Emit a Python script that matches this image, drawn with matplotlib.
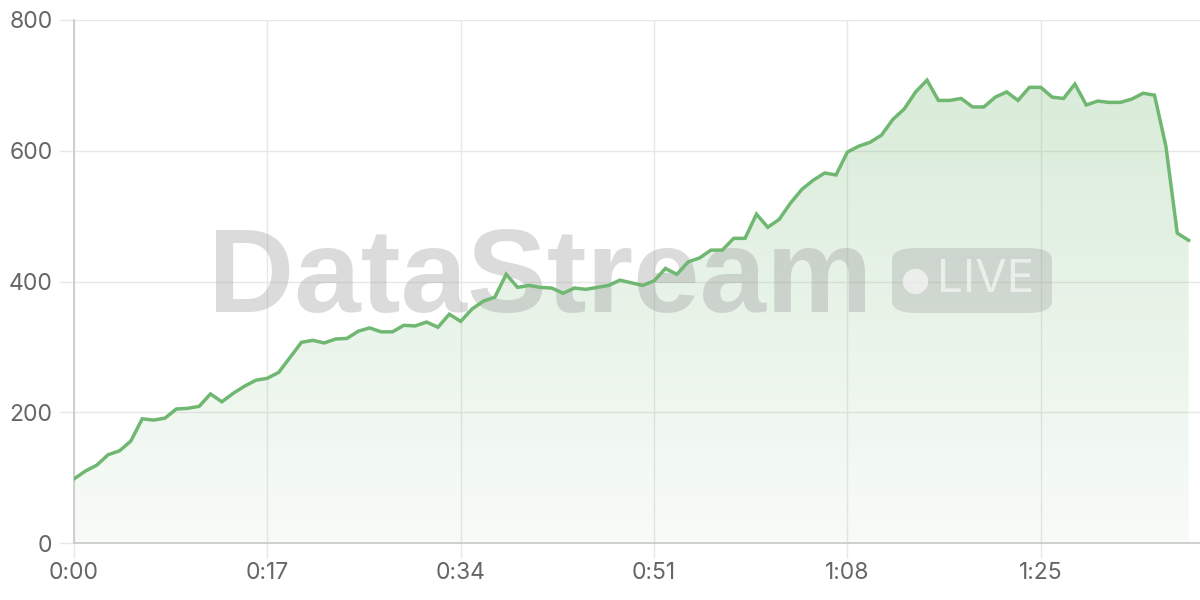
import numpy as np
import matplotlib.pyplot as plt
from matplotlib.colors import LinearSegmentedColormap
from matplotlib.patches import FancyBboxPatch

# data: one reading per second
seconds = list(range(99))
values = [98, 110, 119, 135, 141, 156, 190, 188, 191, 205,
          206, 209, 228, 216, 229, 240, 249, 252, 261, 284,
          307, 310, 306, 312, 313, 324, 329, 323, 323, 333,
          332, 338, 330, 350, 339, 358, 370, 376, 411, 391,
          394, 391, 390, 382, 390, 388, 391, 394, 402, 398,
          394, 401, 420, 411, 430, 436, 448, 448, 466, 466,
          503, 483, 495, 520, 541, 555, 566, 563, 598, 607,
          613, 624, 648, 664, 690, 708, 677, 677, 680, 667,
          667, 682, 690, 677, 697, 697, 682, 680, 702, 670,
          676, 674, 674, 679, 688, 685, 607, 474, 463]
tick_secs = [0, 17, 34, 51, 68, 85]
tick_labels = ["0:00", "0:17", "0:34", "0:51", "1:08", "1:25"]
y_ticks = [0, 200, 400, 600, 800]

line_color = "#70b872"
text_color = "#666666"

plt.rcParams['font.family'] = ['Inter', 'DejaVu Sans']

fig = plt.figure(figsize=(12, 6), dpi=100)
ax = fig.add_axes([74 / 1200, 57 / 600, 1126 / 1200, 523 / 600])

# gradient fill under the line
poly = ax.fill_between(seconds, values, 0, color="none", lw=0)
cmap = LinearSegmentedColormap.from_list("g", [(0.44, 0.72, 0.45, 0.05), (0.44, 0.72, 0.45, 0.30)])
grad = np.linspace(0, 1, 256).reshape(-1, 1)
img = ax.imshow(grad, cmap=cmap, aspect="auto", origin="lower",
                extent=[0, max(seconds), 0, 800], zorder=1)
img.set_clip_path(poly.get_paths()[0], transform=ax.transData)

ax.plot(seconds, values, color=line_color, lw=2.5, zorder=4, solid_joinstyle="miter")

ax.set_xlim(0, 99)
ax.set_ylim(0, 800)
ax.set_xticks(tick_secs, tick_labels)
ax.set_yticks(y_ticks)
ax.grid(True, color="#e8e8e8", lw=1)
ax.set_axisbelow(True)
for s in ["top", "right"]:
    ax.spines[s].set_visible(False)
for s in ["left", "bottom"]:
    ax.spines[s].set_color("#cccccc")
    ax.spines[s].set_linewidth(1.3)
ax.tick_params(axis="both", colors="#e8e8e8", labelcolor=text_color, labelsize=16.5,
               length=10.5, width=1)
ax.tick_params(axis="x", pad=3)
ax.tick_params(axis="y", pad=5)

# watermark
ax.text(0.119, 0.5, "DataStream", transform=ax.transAxes, fontsize=86, fontweight="bold",
        family="Liberation Sans", color="#9a9a9a", alpha=0.35, va="center", ha="left",
        zorder=3)
box = FancyBboxPatch((892 / 1200, (600 - 313) / 600), 160 / 1200, 65 / 600,
                     boxstyle="round,pad=0,rounding_size=0.02", transform=fig.transFigure,
                     fc="#9a9a9a", ec="none", alpha=0.3, zorder=3)
fig.patches.append(box)
fig.text(915 / 1200, (600 - 280) / 600, "\u25cf", fontsize=24, color="white", alpha=0.6,
         ha="center", va="center", family="DejaVu Sans")
fig.text(937 / 1200, (600 - 280) / 600, "LIVE", fontsize=33, color="white", alpha=0.6,
         ha="left", va="center")

fig.savefig("out.png", dpi=100)
